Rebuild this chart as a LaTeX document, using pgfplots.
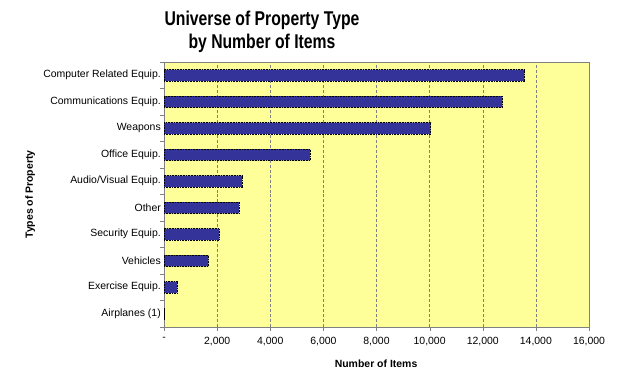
\documentclass[border=0pt]{standalone}
\usepackage{pgfplots}
\pgfplotsset{compat=1.18}
\usepackage{fontspec}
\setmainfont{Liberation Sans}
\usepackage{graphicx}
\definecolor{bgyellow}{HTML}{FFFF99}
\definecolor{barblue}{HTML}{333399}
\definecolor{gridgray}{HTML}{808080}
\begin{document}
\begin{tikzpicture}
\path[use as bounding box, fill=white] (0bp,0bp) rectangle (631bp,391bp);
\node[font=\fontsize{20}{22}\bfseries\selectfont] at (262bp,371bp) {\scalebox{0.79}[1]{Universe of Property Type}};
\node[font=\fontsize{20}{22}\bfseries\selectfont] at (262bp,348bp) {\scalebox{0.79}[1]{by Number of Items}};
\begin{axis}[
  at={(164bp,64bp)}, anchor=south west,
  width=425bp, height=265bp, scale only axis,
  xbar, bar width=0.42,
  xmin=0, xmax=16000, ymin=-0.5, ymax=9.5,
  scaled x ticks=false,
  axis background/.style={fill=bgyellow},
  axis line style={draw=gridgray},
  xtick={0,2000,...,16000},
  xticklabels={{-},{2,000},{4,000},{6,000},{8,000},{10,000},{12,000},{14,000},{16,000}},
  ytick={0,...,9},
  yticklabels={Airplanes (1),Exercise Equip.,Vehicles,Security Equip.,Other,Audio/Visual Equip.,Office Equip.,Weapons,Communications Equip.,Computer Related Equip.},
  minor ytick={-0.5,0.5,...,9.5},
  xtick pos=bottom, ytick pos=left,
  tick align=outside, major tick length=4bp, minor tick length=4bp,
  ytick style={draw=none},
  minor y tick style={draw=gridgray},
  xtick style={draw=gridgray},
  xmajorgrids, grid style={densely dashed, gridgray, line width=0.4pt},
  ticklabel style={font=\fontsize{10.5}{12}\selectfont},
  yticklabel style={inner sep=0pt, xshift=1bp},
  xticklabel style={inner sep=0pt, yshift=-6bp},
  xlabel={Number of Items},
  ylabel={Types of Property},
  xlabel style={font=\fontsize{10.5}{12}\bfseries\selectfont, at={(axis description cs:0.499,-0.14)}, anchor=center},
  ylabel style={font=\fontsize{10.5}{12}\bfseries\selectfont, at={(axis description cs:-0.315,0.5)}, anchor=center},
  clip=false,
]
\addplot[fill=barblue, draw=black, densely dotted, line width=0.6pt] table[x=v, y=c] {
c v
0 1
1 500
2 1670
3 2080
4 2830
5 2945
6 5500
7 10040
8 12740
9 13570
};
\end{axis}
\end{tikzpicture}
\end{document}
